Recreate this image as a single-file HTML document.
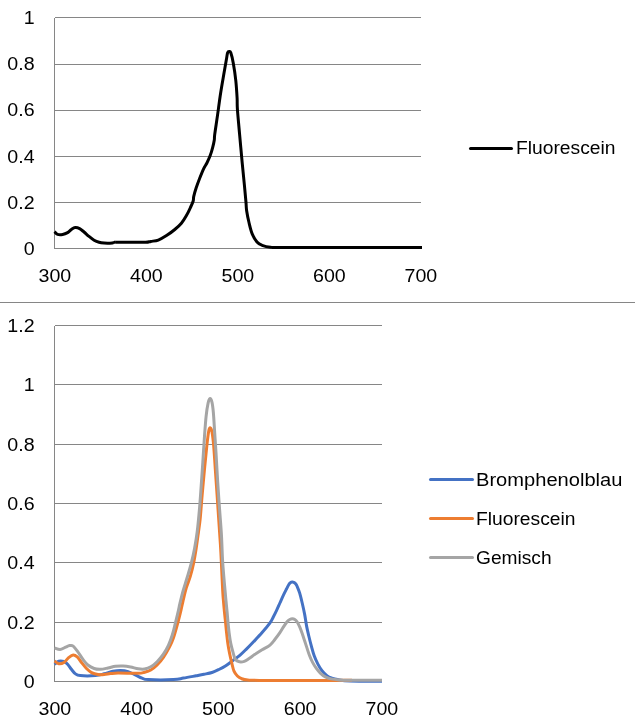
<!DOCTYPE html>
<html lang="de">
<head>
<meta charset="utf-8">
<title>Spektren</title>
<style>
html,body{margin:0;padding:0;background:#fff;}
body{width:635px;height:727px;overflow:hidden;}
svg{display:block;}
text{font-family:"Liberation Sans",sans-serif;font-size:18.7px;fill:#000;}
.grid{stroke:#868686;stroke-width:1;shape-rendering:crispEdges;fill:none;}
.curve{fill:none;stroke-linejoin:round;stroke-linecap:butt;}
</style>
</head>
<body>
<svg width="635" height="727" viewBox="0 0 635 727">
<rect width="635" height="727" fill="#fff"/>

<g class="grid">
<line x1="54.5" y1="17.5" x2="420.5" y2="17.5"/>
<line x1="54.5" y1="64.5" x2="420.5" y2="64.5"/>
<line x1="54.5" y1="110.5" x2="420.5" y2="110.5"/>
<line x1="54.5" y1="156.5" x2="420.5" y2="156.5"/>
<line x1="54.5" y1="202.5" x2="420.5" y2="202.5"/>
<line x1="54.5" y1="248.5" x2="420.5" y2="248.5"/>
<line x1="54.5" y1="17.5" x2="54.5" y2="248.5"/>
</g>
<text x="34.6" y="255.0" text-anchor="end" textLength="10.9" lengthAdjust="spacingAndGlyphs">0</text>
<text x="34.6" y="208.8" text-anchor="end" textLength="27.3" lengthAdjust="spacingAndGlyphs">0.2</text>
<text x="34.6" y="162.6" text-anchor="end" textLength="27.3" lengthAdjust="spacingAndGlyphs">0.4</text>
<text x="34.6" y="116.4" text-anchor="end" textLength="27.3" lengthAdjust="spacingAndGlyphs">0.6</text>
<text x="34.6" y="70.2" text-anchor="end" textLength="27.3" lengthAdjust="spacingAndGlyphs">0.8</text>
<text x="34.6" y="24.0" text-anchor="end" textLength="10.9" lengthAdjust="spacingAndGlyphs">1</text>
<text x="54.9" y="282.0" text-anchor="middle" textLength="32.7" lengthAdjust="spacingAndGlyphs">300</text>
<text x="146.4" y="282.0" text-anchor="middle" textLength="32.7" lengthAdjust="spacingAndGlyphs">400</text>
<text x="237.9" y="282.0" text-anchor="middle" textLength="32.7" lengthAdjust="spacingAndGlyphs">500</text>
<text x="329.4" y="282.0" text-anchor="middle" textLength="32.7" lengthAdjust="spacingAndGlyphs">600</text>
<text x="420.9" y="282.0" text-anchor="middle" textLength="32.7" lengthAdjust="spacingAndGlyphs">700</text>
<path class="curve" stroke="#000" stroke-width="3" d="M54.50,231.70 C55.02,232.15 56.25,233.93 57.60,234.40 C58.95,234.87 60.93,234.80 62.60,234.50 C64.27,234.20 66.13,233.43 67.60,232.60 C69.07,231.77 70.13,230.33 71.40,229.50 C72.67,228.67 73.83,227.75 75.20,227.60 C76.57,227.45 78.13,227.87 79.60,228.60 C81.07,229.33 82.43,230.70 84.00,232.00 C85.57,233.30 87.32,235.03 89.00,236.40 C90.68,237.77 92.42,239.22 94.10,240.20 C95.78,241.18 97.42,241.82 99.10,242.30 C100.78,242.78 102.55,242.95 104.20,243.10 C105.85,243.25 107.65,243.20 109.00,243.20 C110.35,243.20 111.43,243.23 112.30,243.10 C113.17,242.97 113.58,242.53 114.20,242.40 C114.82,242.27 113.37,242.32 116.00,242.30 C118.63,242.28 125.05,242.30 130.00,242.30 C134.95,242.30 142.23,242.45 145.70,242.30 C149.17,242.15 148.70,241.77 150.80,241.40 C152.90,241.03 155.68,241.07 158.30,240.10 C160.92,239.13 163.75,237.37 166.50,235.60 C169.25,233.83 172.32,231.57 174.80,229.50 C177.28,227.43 179.48,225.48 181.40,223.20 C183.32,220.92 184.80,218.40 186.30,215.80 C187.80,213.20 189.25,210.07 190.40,207.60 C191.55,205.13 192.65,202.83 193.20,201.00 C193.75,199.17 193.20,198.80 193.70,196.60 C194.20,194.40 195.23,190.78 196.20,187.80 C197.17,184.82 198.27,181.87 199.50,178.70 C200.73,175.53 202.37,171.42 203.60,168.80 C204.83,166.18 205.80,165.20 206.90,163.00 C208.00,160.80 209.23,158.22 210.20,155.60 C211.17,152.98 212.02,149.92 212.70,147.30 C213.38,144.68 213.97,142.02 214.30,139.90 C214.63,137.78 214.17,138.68 214.70,134.60 C215.23,130.52 216.52,122.28 217.50,115.40 C218.48,108.52 219.55,100.15 220.60,93.30 C221.65,86.45 222.85,79.83 223.80,74.30 C224.75,68.77 225.67,63.68 226.30,60.10 C226.93,56.52 227.12,54.23 227.60,52.80 C228.08,51.37 228.67,51.50 229.20,51.50 C229.73,51.50 230.12,50.85 230.80,52.80 C231.48,54.75 232.47,58.57 233.30,63.20 C234.13,67.83 235.17,74.80 235.80,80.60 C236.43,86.40 236.83,93.25 237.10,98.00 C237.37,102.75 236.98,103.03 237.40,109.10 C237.82,115.17 238.80,125.43 239.60,134.40 C240.40,143.37 241.40,154.45 242.20,162.90 C243.00,171.35 243.77,178.50 244.40,185.10 C245.03,191.70 245.63,198.28 246.00,202.50 C246.37,206.72 246.08,206.98 246.60,210.40 C247.12,213.82 248.15,219.05 249.10,223.00 C250.05,226.95 250.98,230.93 252.30,234.10 C253.62,237.27 255.42,240.15 257.00,242.00 C258.58,243.85 259.55,244.33 261.80,245.20 C264.05,246.07 265.80,246.83 270.50,247.20 C275.20,247.57 264.75,247.37 290.00,247.40 C315.25,247.43 400.00,247.40 422.00,247.40"/>
<line x1="470.5" y1="148.5" x2="511.5" y2="148.5" stroke="#000" stroke-width="3" stroke-linecap="round"/>
<text x="516.0" y="154.0" text-anchor="start" textLength="99.5" lengthAdjust="spacingAndGlyphs">Fluorescein</text>
<line class="grid" x1="0" y1="302.5" x2="635" y2="302.5"/>
<g class="grid">
<line x1="54.5" y1="325.5" x2="381.5" y2="325.5"/>
<line x1="54.5" y1="384.5" x2="381.5" y2="384.5"/>
<line x1="54.5" y1="444.5" x2="381.5" y2="444.5"/>
<line x1="54.5" y1="503.5" x2="381.5" y2="503.5"/>
<line x1="54.5" y1="562.5" x2="381.5" y2="562.5"/>
<line x1="54.5" y1="622.5" x2="381.5" y2="622.5"/>
<line x1="54.5" y1="681.5" x2="381.5" y2="681.5"/>
<line x1="54.5" y1="325.5" x2="54.5" y2="681.5"/>
</g>
<text x="34.6" y="688.0" text-anchor="end" textLength="10.9" lengthAdjust="spacingAndGlyphs">0</text>
<text x="34.6" y="628.7" text-anchor="end" textLength="27.3" lengthAdjust="spacingAndGlyphs">0.2</text>
<text x="34.6" y="569.3" text-anchor="end" textLength="27.3" lengthAdjust="spacingAndGlyphs">0.4</text>
<text x="34.6" y="510.0" text-anchor="end" textLength="27.3" lengthAdjust="spacingAndGlyphs">0.6</text>
<text x="34.6" y="450.7" text-anchor="end" textLength="27.3" lengthAdjust="spacingAndGlyphs">0.8</text>
<text x="34.6" y="391.3" text-anchor="end" textLength="10.9" lengthAdjust="spacingAndGlyphs">1</text>
<text x="34.6" y="332.0" text-anchor="end" textLength="27.3" lengthAdjust="spacingAndGlyphs">1.2</text>
<text x="54.9" y="715.0" text-anchor="middle" textLength="32.7" lengthAdjust="spacingAndGlyphs">300</text>
<text x="136.7" y="715.0" text-anchor="middle" textLength="32.7" lengthAdjust="spacingAndGlyphs">400</text>
<text x="218.4" y="715.0" text-anchor="middle" textLength="32.7" lengthAdjust="spacingAndGlyphs">500</text>
<text x="300.1" y="715.0" text-anchor="middle" textLength="32.7" lengthAdjust="spacingAndGlyphs">600</text>
<text x="381.9" y="715.0" text-anchor="middle" textLength="32.7" lengthAdjust="spacingAndGlyphs">700</text>
<path class="curve" stroke="#4472c4" stroke-width="3" d="M54.50,664.20 C55.22,663.70 57.23,661.65 58.80,661.20 C60.37,660.75 62.43,661.00 63.90,661.50 C65.37,662.00 66.35,662.90 67.60,664.20 C68.85,665.50 70.13,667.73 71.40,669.30 C72.67,670.87 73.73,672.55 75.20,673.60 C76.67,674.65 76.83,675.27 80.20,675.60 C83.57,675.93 91.40,675.90 95.40,675.60 C99.40,675.30 101.27,674.52 104.20,673.80 C107.13,673.08 110.28,671.85 113.00,671.30 C115.72,670.75 117.98,670.45 120.50,670.50 C123.02,670.55 125.57,670.83 128.10,671.60 C130.63,672.37 133.38,674.02 135.70,675.10 C138.02,676.18 139.90,677.35 142.00,678.10 C144.10,678.85 143.05,679.35 148.30,679.60 C153.55,679.85 167.63,679.85 173.50,679.60 C179.37,679.35 179.73,678.73 183.50,678.10 C187.27,677.47 192.68,676.43 196.10,675.80 C199.52,675.17 201.35,674.85 204.00,674.30 C206.65,673.75 209.52,673.30 212.00,672.50 C214.48,671.70 216.60,670.63 218.90,669.50 C221.20,668.37 223.52,667.15 225.80,665.70 C228.08,664.25 230.32,662.47 232.60,660.80 C234.88,659.13 237.20,657.65 239.50,655.70 C241.80,653.75 244.10,651.38 246.40,649.10 C248.70,646.82 250.68,644.75 253.30,642.00 C255.92,639.25 259.32,635.80 262.10,632.60 C264.88,629.40 268.13,625.40 270.00,622.80 C271.87,620.20 272.20,619.07 273.30,617.00 C274.40,614.93 275.50,612.73 276.60,610.40 C277.70,608.07 278.80,605.47 279.90,603.00 C281.00,600.53 282.10,597.93 283.20,595.60 C284.30,593.27 285.53,590.90 286.50,589.00 C287.47,587.10 288.32,585.27 289.00,584.20 C289.68,583.13 290.07,582.95 290.60,582.60 C291.13,582.25 291.67,582.13 292.20,582.10 C292.73,582.07 293.23,582.13 293.80,582.40 C294.37,582.67 295.03,583.02 295.60,583.70 C296.17,584.38 296.52,584.93 297.20,586.50 C297.88,588.07 298.87,590.35 299.70,593.10 C300.53,595.85 301.37,599.42 302.20,603.00 C303.03,606.58 303.97,610.75 304.70,614.60 C305.43,618.45 305.92,622.53 306.60,626.10 C307.28,629.67 308.02,632.70 308.80,636.00 C309.58,639.30 310.40,642.60 311.30,645.90 C312.20,649.20 313.10,652.77 314.20,655.80 C315.30,658.83 316.60,661.62 317.90,664.10 C319.20,666.58 320.50,668.78 322.00,670.70 C323.50,672.62 325.25,674.37 326.90,675.60 C328.55,676.83 330.10,677.43 331.90,678.10 C333.70,678.77 334.68,679.12 337.70,679.60 C340.72,680.08 342.62,680.72 350.00,681.00 C357.38,681.28 376.67,681.25 382.00,681.30"/>
<path class="curve" stroke="#ed7d31" stroke-width="3" d="M54.50,661.00 C55.22,661.45 57.23,663.45 58.80,663.70 C60.37,663.95 62.22,663.55 63.90,662.50 C65.58,661.45 67.35,658.67 68.90,657.40 C70.45,656.13 71.82,654.98 73.20,654.90 C74.58,654.82 75.82,655.63 77.20,656.90 C78.58,658.17 79.95,660.57 81.50,662.50 C83.05,664.43 84.82,666.82 86.50,668.50 C88.18,670.18 89.70,671.58 91.60,672.60 C93.50,673.62 95.80,674.27 97.90,674.60 C100.00,674.93 102.10,674.77 104.20,674.60 C106.30,674.43 108.20,673.87 110.50,673.60 C112.80,673.33 113.38,673.05 118.00,673.00 C122.62,672.95 133.78,673.42 138.20,673.30 C142.62,673.18 142.40,672.85 144.50,672.30 C146.60,671.75 148.70,671.22 150.80,670.00 C152.90,668.78 155.00,667.10 157.10,665.00 C159.20,662.90 161.30,660.47 163.40,657.40 C165.50,654.33 168.02,649.87 169.70,646.60 C171.38,643.33 172.25,641.37 173.50,637.80 C174.75,634.23 175.95,629.82 177.20,625.20 C178.45,620.58 180.03,614.12 181.00,610.10 C181.97,606.08 182.12,604.80 183.00,601.10 C183.88,597.40 185.08,592.02 186.30,587.90 C187.52,583.78 189.08,580.52 190.30,576.40 C191.52,572.28 192.62,567.88 193.60,563.20 C194.58,558.52 195.38,553.53 196.20,548.30 C197.02,543.07 197.83,536.75 198.50,531.80 C199.17,526.85 199.60,524.65 200.20,518.60 C200.80,512.55 201.38,503.75 202.10,495.50 C202.82,487.25 203.72,477.35 204.50,469.10 C205.28,460.85 206.10,452.32 206.80,446.00 C207.50,439.68 208.10,434.22 208.70,431.20 C209.30,428.18 209.85,427.75 210.40,427.90 C210.95,428.05 211.45,429.08 212.00,432.10 C212.55,435.12 213.15,439.83 213.70,446.00 C214.25,452.17 214.73,460.85 215.30,469.10 C215.87,477.35 216.51,486.70 217.11,495.50 C217.71,504.30 218.33,513.65 218.89,521.90 C219.44,530.15 220.03,538.28 220.44,545.00 C220.85,551.72 220.99,554.70 221.36,562.20 C221.73,569.70 222.30,583.53 222.65,590.00 C223.00,596.47 223.15,597.33 223.45,601.00 C223.75,604.67 224.10,608.45 224.45,612.00 C224.80,615.55 225.20,618.87 225.55,622.30 C225.90,625.73 226.17,629.05 226.55,632.60 C226.93,636.15 227.35,640.15 227.85,643.60 C228.35,647.05 228.90,650.08 229.55,653.30 C230.20,656.52 231.01,659.92 231.75,662.90 C232.49,665.88 233.06,669.02 234.00,671.20 C234.94,673.38 236.13,674.75 237.40,676.00 C238.67,677.25 239.87,678.02 241.60,678.70 C243.33,679.38 244.40,679.82 247.80,680.10 C251.20,680.38 247.47,680.35 262.00,680.40 C276.53,680.45 321.17,680.43 335.00,680.40 C348.83,680.37 342.17,680.23 345.00,680.20 C347.83,680.17 350.83,680.20 352.00,680.20"/>
<path class="curve" stroke="#a5a5a5" stroke-width="3" d="M54.50,647.90 C55.43,648.18 58.33,649.68 60.10,649.60 C61.87,649.52 63.50,648.07 65.10,647.40 C66.70,646.73 68.35,645.82 69.70,645.60 C71.05,645.38 71.87,645.10 73.20,646.10 C74.53,647.10 76.10,649.42 77.70,651.60 C79.30,653.78 81.12,656.97 82.80,659.20 C84.48,661.43 85.92,663.45 87.80,665.00 C89.68,666.55 92.00,667.78 94.10,668.50 C96.20,669.22 98.08,669.38 100.40,669.30 C102.72,669.22 105.48,668.50 108.00,668.00 C110.52,667.50 112.98,666.63 115.50,666.30 C118.02,665.97 120.58,665.88 123.10,666.00 C125.62,666.12 128.08,666.53 130.60,667.00 C133.12,667.47 135.88,668.47 138.20,668.80 C140.52,669.13 142.40,669.33 144.50,669.00 C146.60,668.67 148.70,668.02 150.80,666.80 C152.90,665.58 155.00,663.80 157.10,661.70 C159.20,659.60 161.52,656.92 163.40,654.20 C165.28,651.48 166.93,648.55 168.40,645.40 C169.87,642.25 171.07,638.88 172.20,635.30 C173.33,631.72 174.15,628.10 175.20,623.90 C176.25,619.70 177.75,613.35 178.50,610.10 C179.25,606.85 178.95,607.55 179.70,604.40 C180.45,601.25 181.78,595.60 183.00,591.20 C184.22,586.80 185.62,582.67 187.00,578.00 C188.38,573.33 190.03,568.15 191.30,563.20 C192.57,558.25 193.62,553.53 194.60,548.30 C195.58,543.07 196.38,538.40 197.20,531.80 C198.02,525.20 198.83,516.40 199.50,508.70 C200.17,501.00 200.65,493.30 201.20,485.60 C201.75,477.90 202.25,470.75 202.80,462.50 C203.35,454.25 203.95,443.80 204.50,436.10 C205.05,428.40 205.50,421.80 206.10,416.30 C206.70,410.80 207.43,406.07 208.10,403.10 C208.77,400.13 209.45,398.62 210.10,398.50 C210.75,398.38 211.45,399.98 212.00,402.40 C212.55,404.82 212.95,407.93 213.40,413.00 C213.85,418.07 214.27,426.20 214.70,432.80 C215.13,439.40 215.50,444.35 216.00,452.60 C216.50,460.85 217.13,472.95 217.72,482.30 C218.31,491.65 218.91,499.90 219.53,508.70 C220.15,517.50 220.93,526.18 221.45,535.10 C221.97,544.02 222.08,553.05 222.67,562.20 C223.26,571.35 224.44,583.53 225.00,590.00 C225.56,596.47 225.65,597.33 226.00,601.00 C226.35,604.67 226.77,608.45 227.10,612.00 C227.43,615.55 227.67,618.87 228.00,622.30 C228.33,625.73 228.63,629.05 229.10,632.60 C229.57,636.15 230.10,640.15 230.80,643.60 C231.50,647.05 232.53,650.65 233.30,653.30 C234.07,655.95 234.37,658.08 235.40,659.50 C236.43,660.92 238.02,661.50 239.50,661.80 C240.98,662.10 242.70,661.85 244.30,661.30 C245.90,660.75 247.38,659.62 249.10,658.50 C250.82,657.38 252.43,656.05 254.60,654.60 C256.77,653.15 259.53,651.38 262.10,649.80 C264.67,648.22 267.85,646.85 270.00,645.10 C272.15,643.35 273.35,641.37 275.00,639.30 C276.65,637.23 278.40,634.90 279.90,632.70 C281.40,630.50 282.77,627.97 284.00,626.10 C285.23,624.23 286.33,622.60 287.30,621.50 C288.27,620.40 288.97,619.95 289.80,619.50 C290.63,619.05 291.47,618.80 292.30,618.80 C293.13,618.80 293.98,618.97 294.80,619.50 C295.62,620.03 296.38,620.77 297.20,622.00 C298.02,623.23 298.87,624.98 299.70,626.90 C300.53,628.82 301.37,631.15 302.20,633.50 C303.03,635.85 303.88,638.52 304.70,641.00 C305.52,643.48 306.28,645.93 307.10,648.40 C307.92,650.87 308.68,653.47 309.60,655.80 C310.52,658.13 311.50,660.33 312.60,662.40 C313.70,664.47 314.92,666.42 316.20,668.20 C317.48,669.98 318.78,671.65 320.30,673.10 C321.82,674.55 323.50,675.93 325.30,676.90 C327.10,677.87 328.77,678.40 331.10,678.90 C333.43,679.40 336.15,679.68 339.30,679.90 C342.45,680.12 342.88,680.15 350.00,680.20 C357.12,680.25 376.67,680.20 382.00,680.20"/>
<line x1="430.5" y1="479.5" x2="472.5" y2="479.5" stroke="#4472c4" stroke-width="3" stroke-linecap="round"/>
<text x="476.0" y="486.0" text-anchor="start" textLength="146.4" lengthAdjust="spacingAndGlyphs">Bromphenolblau</text>
<line x1="430.5" y1="518.5" x2="472.5" y2="518.5" stroke="#ed7d31" stroke-width="3" stroke-linecap="round"/>
<text x="476.0" y="525.0" text-anchor="start" textLength="99.5" lengthAdjust="spacingAndGlyphs">Fluorescein</text>
<line x1="430.5" y1="557.5" x2="472.5" y2="557.5" stroke="#a5a5a5" stroke-width="3" stroke-linecap="round"/>
<text x="476.0" y="564.0" text-anchor="start" textLength="75.6" lengthAdjust="spacingAndGlyphs">Gemisch</text>
</svg>
</body>
</html>
